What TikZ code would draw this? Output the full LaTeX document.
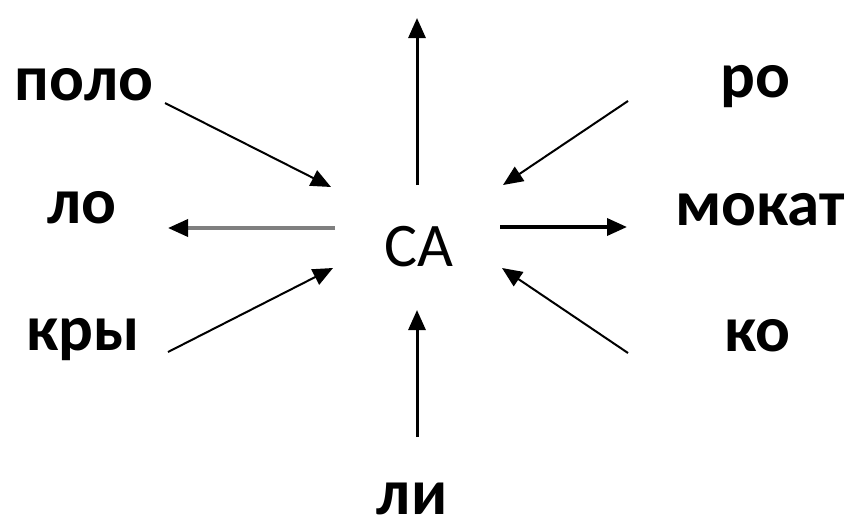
\documentclass[tikz,border=0pt]{standalone}
\usepackage{fontspec}
\setmainfont{Carlito}
\usetikzlibrary{arrows.meta}
\definecolor{lineGray}{HTML}{7F7F7F}

\begin{document}
\begin{tikzpicture}[x=1pt, y=-1pt,
  lbl/.style={anchor=base, inner sep=0pt, font=\fontsize{65}{70}\selectfont\bfseries},
  hub/.style={anchor=base, inner sep=0pt, font=\fontsize{62}{66}\selectfont},
  arr/.style={-{Triangle[length=20pt, width=17pt]}, line width=2pt, black},
  vert/.style={arr, line width=3pt},
  horz/.style={arr, line width=3.5pt}
]
  \useasboundingbox (0,0) rectangle (851,523);

  % centre word
  \node[hub] (ca) at (419,266) {СА};

  % labels round it
  \node[lbl] (polo)  at (84,100)  {поло};
  \node[lbl] (ro)    at (755,97)  {ро};
  \node[lbl] (lo)    at (82,223)  {ло};
  \node[lbl] (mokat) at (760,225) {мокат};
  \node[lbl] (kry)   at (83,350)  {кры};
  \node[lbl] (ko)    at (757,351) {ко};
  \node[lbl] (li)    at (412,514) {ли};

  % arrow ends
  \coordinate (caN)  at (417,185);
  \coordinate (topN) at (417,18);
  \coordinate (caS)  at (417,310);
  \coordinate (liN)  at (417,437);
  \coordinate (caW)  at (335,228);
  \coordinate (loE)  at (168,228);
  \coordinate (caE)  at (500,227);
  \coordinate (mokatW) at (627,227);
  \coordinate (poloE) at (165,103);
  \coordinate (caNW) at (331,187);
  \coordinate (kryE) at (168,352);
  \coordinate (caSW) at (333,268);
  \coordinate (roW)  at (628,101);
  \coordinate (caNE) at (503,185);
  \coordinate (koW)  at (628,353);
  \coordinate (caSE) at (502,268);

  \draw[vert] (caN) -- (topN);
  \draw[vert] (liN) -- (caS);
  \draw[horz, lineGray, -{Triangle[length=20pt, width=17pt, color=black]}] (caW) -- (loE);
  \draw[horz] (caE) -- (mokatW);
  \draw[arr] (poloE) -- (caNW);
  \draw[arr] (kryE) -- (caSW);
  \draw[arr] (roW) -- (caNE);
  \draw[arr] (koW) -- (caSE);
\end{tikzpicture}
\end{document}
